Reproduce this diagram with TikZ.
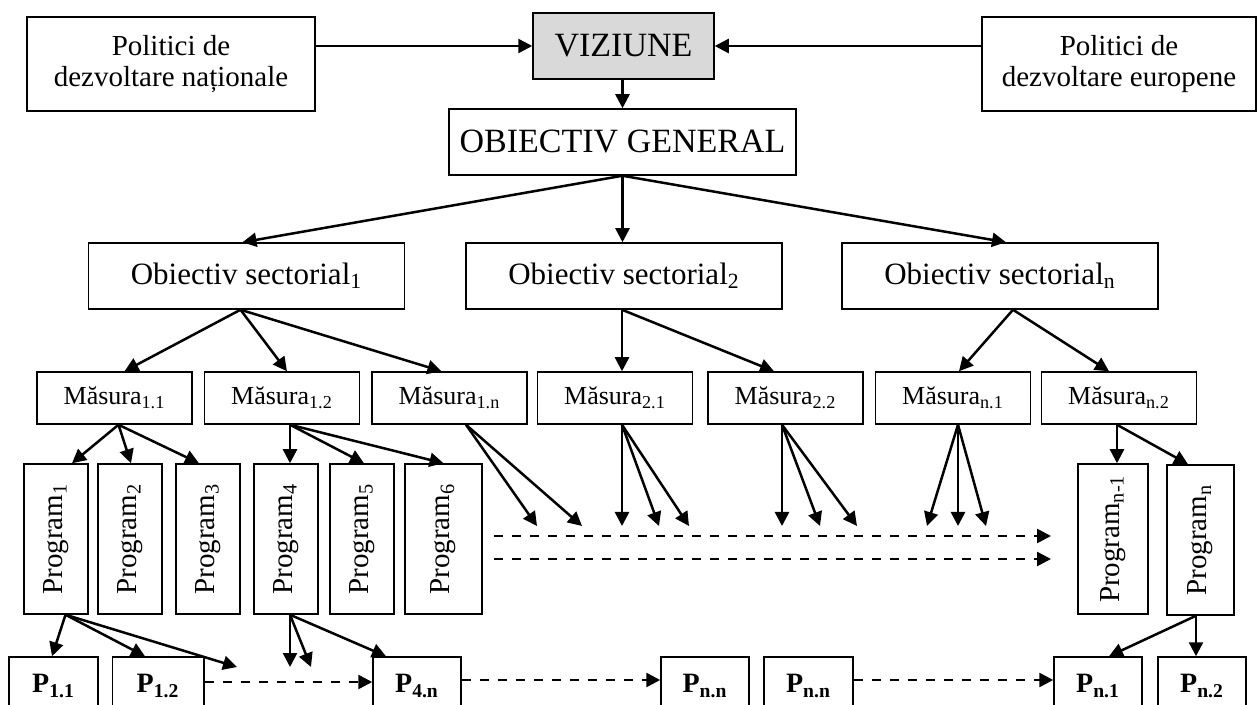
\documentclass[tikz,border=0pt]{standalone}
\usepackage{fontspec}
\usepackage{graphicx}
\setmainfont{Liberation Serif}
\usetikzlibrary{arrows.meta,calc}
\begin{document}
\begin{tikzpicture}[x=0.5pt,y=-0.5pt,
  box/.style={draw, line width=0.75pt, inner sep=0pt, align=center},
  polbox/.style={box, minimum height=47pt, font=\fontsize{14.5}{15.5}\selectfont},
  topbox/.style={box, minimum height=33pt, font=\fontsize{17}{19}\selectfont},
  secbox/.style={box, minimum width=158pt, minimum height=33pt, font=\fontsize{15.5}{17}\selectfont},
  masbox/.style={box, minimum width=77.5pt, minimum height=26pt, font=\fontsize{13}{15}\selectfont},
  progbox/.style={box, minimum width=32pt, minimum height=75pt, font=\fontsize{14.5}{16}\selectfont},
  leafbox/.style={box, minimum width=44.5pt, minimum height=29pt, font=\fontsize{14}{15}\selectfont\bfseries},
  arr/.style={line width=1.25pt, -{Triangle[length=7pt,width=7pt]}},
  dasharr/.style={arr, dash pattern=on 4.5pt off 4.5pt},
]
\useasboundingbox (0,0) rectangle (1259,705);
\clip (0,0) rectangle (1259,705);

% top level
\node[polbox, minimum width=144pt] (natp) at (171,64) {Politici de\\dezvoltare naționale};
\node[topbox, minimum width=90.5pt, fill=black!15] (viz) at (623.5,46) {VIZIUNE};
\node[polbox, minimum width=137pt] (eurp) at (1119,64) {Politici de\\dezvoltare europene};
\node[topbox, minimum width=173.5pt] (og) at (622.5,142) {OBIECTIV GENERAL};

% sectoral objectives
\node[secbox] (os1) at (246.5,276) {Obiectiv sectorial\textsubscript{1}};
\node[secbox] (os2) at (624,276) {Obiectiv sectorial\textsubscript{2}};
\node[secbox] (osn) at (1000,276) {Obiectiv sectorial\textsubscript{n}};

% measures
\node[masbox] (m11) at (114.5,398) {Măsura\textsubscript{1.1}};
\node[masbox] (m12) at (282,398) {Măsura\textsubscript{1.2}};
\node[masbox] (m1n) at (449.5,398) {Măsura\textsubscript{1.n}};
\node[masbox] (m21) at (615,398) {Măsura\textsubscript{2.1}};
\node[masbox] (m22) at (785.5,398) {Măsura\textsubscript{2.2}};
\node[masbox] (mn1) at (953,398) {Măsura\textsubscript{n.1}};
\node[masbox] (mn2) at (1119,398) {Măsura\textsubscript{n.2}};

% programs
\node[progbox] (p1) at (56,539) {\rotatebox{90}{Program\textsubscript{1}}};
\node[progbox] (p2) at (130,539) {\rotatebox{90}{Program\textsubscript{2}}};
\node[progbox] (p3) at (208,539) {\rotatebox{90}{Program\textsubscript{3}}};
\node[progbox] (p4) at (286,539) {\rotatebox{90}{Program\textsubscript{4}}};
\node[progbox] (p5) at (362,539) {\rotatebox{90}{Program\textsubscript{5}}};
\node[progbox, minimum width=38.5pt] (p6) at (443.5,539) {\rotatebox{90}{Program\textsubscript{6}}};
\node[progbox, minimum width=35pt] (pn1) at (1113,539) {\rotatebox{90}{Program\textsubscript{n-1}}};
\node[progbox, minimum width=33.5pt] (pnn) at (1200.5,540) {\rotatebox{90}{Program\textsubscript{n}}};

% projects (run past the lower edge)
\node[leafbox] (b11) at (53.5,686) {P\textsubscript{1.1}};
\node[leafbox, minimum width=45.75pt] (b12) at (158,686) {P\textsubscript{1.2}};
\node[leafbox, minimum width=44pt] (b4n) at (417,686) {P\textsubscript{4.n}};
\node[leafbox, minimum width=44pt] (bnn1) at (705,686) {P\textsubscript{n.n}};
\node[leafbox] (bnn2) at (808.5,686) {P\textsubscript{n.n}};
\node[leafbox, minimum width=44pt] (bn1) at (1098,686) {P\textsubscript{n.1}};
\node[leafbox, minimum width=44pt] (bn2) at (1202,686) {P\textsubscript{n.2}};

% free arrow ends
\coordinate (e1a) at (537,526);
\coordinate (e1b) at (582,526);
\coordinate (e2a) at (622,526);
\coordinate (e2b) at (659,526);
\coordinate (e2c) at (689,526);
\coordinate (e3a) at (782,526);
\coordinate (e3b) at (820,526);
\coordinate (e3c) at (857,526);
\coordinate (e4a) at (927,526);
\coordinate (e4b) at (958,526);
\coordinate (e4c) at (986,526);
\coordinate (d1s) at (494,536);
\coordinate (d1e) at (1051,536);
\coordinate (d2s) at (494,559);
\coordinate (d2e) at (1051,559);
\coordinate (f1) at (237,667);
\coordinate (f2) at (290,667);
\coordinate (f3) at (311,667);

% policies and vision
\draw[arr] (natp.east |- viz.west) -- (viz.west);
\draw[arr] (eurp.west |- viz.east) -- (viz.east);
\draw[arr] ([xshift=-0.5pt]viz.south) -- ([xshift=-0.5pt]viz.south |- og.north);

% general objective to sectoral objectives
\draw[arr] (og.south) -- ([xshift=-2pt]os1.north);
\draw[arr] (og.south) -- (og.south |- os2.north);
\draw[arr] (og.south) -- ([xshift=3pt]osn.north);

% sectoral objectives to measures
\draw[arr] ([xshift=-3pt]os1.south) -- ([xshift=5pt]m11.north);
\draw[arr] ([xshift=-3pt]os1.south) -- ([xshift=2.5pt]m12.north);
\draw[arr] ([xshift=-3pt]os1.south) -- ([xshift=-4pt]m1n.north);
\draw[arr] ([xshift=-1pt]os2.south) -- ([xshift=-1pt]os2.south |- m21.north);
\draw[arr] ([xshift=-1pt]os2.south) -- ([xshift=-5.75pt]m22.north);
\draw[arr] ([xshift=6.5pt]osn.south) -- ([xshift=3pt]mn1.north);
\draw[arr] ([xshift=6.5pt]osn.south) -- ([xshift=-5pt]mn2.north);

% measures to programs
\draw[arr] ([xshift=2pt]m11.south) -- ([xshift=8pt]p1.north);
\draw[arr] ([xshift=2pt]m11.south) -- ([xshift=0.5pt]p2.north);
\draw[arr] ([xshift=2pt]m11.south) -- ([xshift=-4.5pt]p3.north);
\draw[arr] ([xshift=4pt]m12.south) -- ([xshift=4pt]m12.south |- p4.north);
\draw[arr] ([xshift=4pt]m12.south) -- ([xshift=1pt]p5.north);
\draw[arr] ([xshift=4pt]m12.south) -- (p6.north);
\draw[arr] ([xshift=8.25pt]m1n.south) -- (e1a);
\draw[arr] ([xshift=8.25pt]m1n.south) -- (e1b);
\draw[arr] ([xshift=3.5pt]m21.south) -- (e2a);
\draw[arr] ([xshift=3.5pt]m21.south) -- (e2b);
\draw[arr] ([xshift=3.5pt]m21.south) -- (e2c);
\draw[arr] ([xshift=-1.75pt]m22.south) -- (e3a);
\draw[arr] ([xshift=-1.75pt]m22.south) -- (e3b);
\draw[arr] ([xshift=-1.75pt]m22.south) -- (e3c);
\draw[arr] ([xshift=2.5pt]mn1.south) -- (e4a);
\draw[arr] ([xshift=2.5pt]mn1.south) -- (e4b);
\draw[arr] ([xshift=2.5pt]mn1.south) -- (e4c);
\draw[arr] ([xshift=-1pt]mn2.south) -- ([xshift=-1pt]mn2.south |- pn1.north);
\draw[arr] ([xshift=-1pt]mn2.south) -- ([xshift=-6.25pt]pnn.north);

% continuation lines
\draw[dasharr] (d1s) -- (d1e);
\draw[dasharr] (d2s) -- (d2e);

% programs to projects
\draw[arr] ([xshift=4.75pt]p1.south) -- ([xshift=-0.75pt]b11.north);
\draw[arr] ([xshift=4.75pt]p1.south) -- ([xshift=-6.5pt]b12.north);
\draw[arr] ([xshift=4.75pt]p1.south) -- (f1);
\draw[arr] ([xshift=2pt]p4.south) -- (f2);
\draw[arr] ([xshift=2pt]p4.south) -- (f3);
\draw[arr] ([xshift=2pt]p4.south) -- ([xshift=-15.5pt]b4n.north);
\draw[arr] ([xshift=-2.25pt]pnn.south) -- ([xshift=5.5pt]bn1.north);
\draw[arr] ([xshift=-2.25pt]pnn.south) -- ([xshift=-2.25pt]pnn.south |- bn2.north);

% links between projects
\draw[dasharr] ([yshift=2pt]b12.east) -- ([yshift=2pt]b4n.west);
\draw[dasharr] ([yshift=3pt]b4n.east) -- ([yshift=3pt]bnn1.west);
\draw[dasharr] ([yshift=3pt]bnn2.east) -- ([yshift=3pt]bn1.west);
\end{tikzpicture}
\end{document}
